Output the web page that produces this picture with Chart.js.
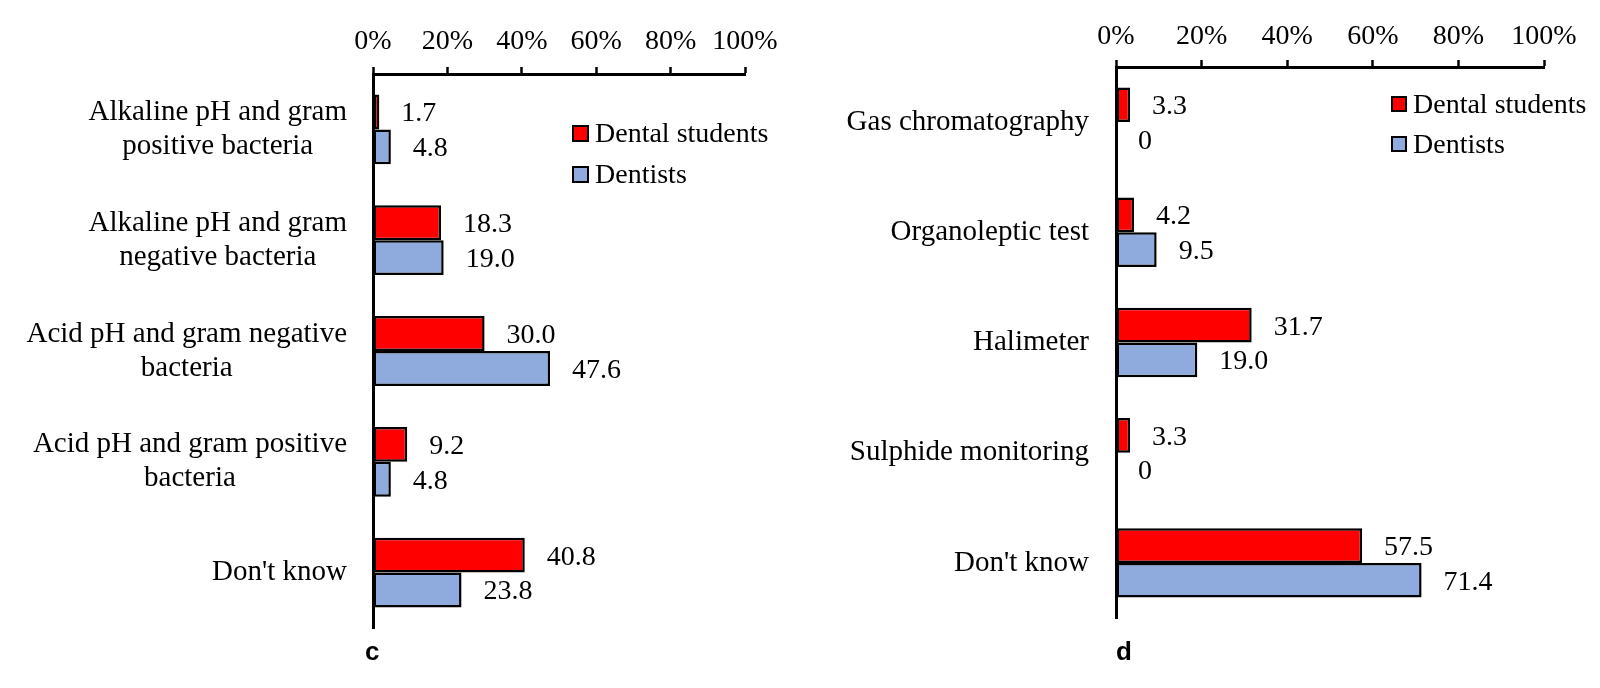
<!DOCTYPE html>
<html><head><meta charset="utf-8">
<script src="https://cdn.jsdelivr.net/npm/chart.js@4/dist/chart.umd.min.js"></script>
<style>
html,body{margin:0;padding:0;background:#fff;}
body{width:1600px;height:688px;position:relative;overflow:hidden;font-family:"Liberation Serif","Times New Roman",serif;}
.wrap{position:absolute;top:0;width:800px;height:688px;}
.leg{position:absolute;height:40px;display:flex;align-items:center;font-size:28px;color:#000;white-space:nowrap;}
.sw{display:inline-block;box-sizing:border-box;border:2.5px solid #000;margin-right:6px;}
.panel{position:absolute;font-family:"Liberation Sans",Arial,sans-serif;font-weight:bold;font-size:26px;line-height:26px;color:#000;}
</style></head>
<body>
<div class="wrap" style="left:0"><canvas id="c1" width="800" height="688"></canvas></div>
<div class="wrap" style="left:800px"><canvas id="c2" width="800" height="688"></canvas></div>

<div class="leg" style="left:572px;top:113px"><span class="sw" style="width:17px;height:17px;background:#FF0000"></span>Dental students</div>
<div class="leg" style="left:572px;top:154px"><span class="sw" style="width:17px;height:17px;background:#8FAADC"></span>Dentists</div>
<div class="leg" style="left:1391px;top:84px"><span class="sw" style="width:16px;height:16px;background:#FF0000"></span>Dental students</div>
<div class="leg" style="left:1391px;top:124px"><span class="sw" style="width:16px;height:16px;background:#8FAADC"></span>Dentists</div>

<div class="panel" style="left:365px;top:638px">c</div>
<div class="panel" style="left:1116px;top:638px">d</div>

<script>
// ---- data ----
const leftCategories = [
  ["Alkaline pH and gram", "positive bacteria"],
  ["Alkaline pH and gram", "negative bacteria"],
  ["Acid pH and gram negative", "bacteria"],
  ["Acid pH and gram positive", "bacteria"],
  "Don't know"
];
const leftStudents = [1.7, 18.3, 30.0, 9.2, 40.8];
const leftDentists = [4.8, 19.0, 47.6, 4.8, 23.8];

const rightCategories = ["Gas chromatography", "Organoleptic test", "Halimeter", "Sulphide monitoring", "Don't know"];
const rightStudents = [3.3, 4.2, 31.7, 3.3, 57.5];
const rightDentists = [0, 9.5, 19.0, 0, 71.4];

const seriesNames = ["Dental students", "Dentists"];
const xTickValues = [0, 20, 40, 60, 80, 100];

// ---- styling / rendering ----
const RED = '#FF0000', BLUE = '#8FAADC';
const SERIF = '"Liberation Serif", "Times New Roman", serif';

const labelPlugin = {
  id: 'catLabels',
  afterDraw(chart, args, opts) {
    const ctx = chart.ctx;
    const ys = chart.scales.y;
    ctx.save();
    ctx.fillStyle = '#000';
    ctx.textBaseline = 'middle';
    ctx.textAlign = 'center';
    ctx.font = '29px ' + SERIF;
    const right = chart.chartArea.left - opts.gap;
    chart.data.labels.forEach((lab, i) => {
      const lines = Array.isArray(lab) ? lab : [lab];
      const w = Math.max(...lines.map(l => ctx.measureText(l).width));
      const cx = right - w / 2;
      const y = ys.getPixelForTick(i);
      lines.forEach((ln, j) => ctx.fillText(ln, cx, y + (j - (lines.length - 1) / 2) * opts.lineHeight + opts.dy));
    });
    ctx.font = '28px ' + SERIF;
    ctx.textAlign = 'left';
    chart.data.datasets.forEach((ds, di) => {
      chart.getDatasetMeta(di).data.forEach((el, i) => {
        const v = ds.data[i];
        ctx.fillText(v === 0 ? '0' : v.toFixed(1), el.x + opts.valGap, el.y + opts.valDy);
      });
    });
    ctx.restore();
  }
};

function makeChart(id, cats, s, d, cfg) {
  return new Chart(document.getElementById(id), {
    type: 'bar',
    data: {
      labels: cats,
      datasets: [
        {label: seriesNames[0], data: s, backgroundColor: RED, borderColor: '#000', borderWidth: 2.5, borderSkipped: false},
        {label: seriesNames[1], data: d, backgroundColor: BLUE, borderColor: '#000', borderWidth: 2.5, borderSkipped: false}
      ]
    },
    options: {
      indexAxis: 'y',
      responsive: false,
      animation: false,
      events: [],
      categoryPercentage: 0.63,
      barPercentage: 1.0,
      layout: {padding: {left: 0, top: 0, right: cfg.right, bottom: cfg.bottom}},
      plugins: {
        legend: {display: false},
        tooltip: {enabled: false},
        catLabels: {gap: cfg.gap, lineHeight: 34, dy: 0, valGap: 22, valDy: 2}
      },
      scales: {
        x: {
          type: 'linear', position: 'top', min: 0, max: 100,
          afterBuildTicks: sc => { sc.ticks = xTickValues.map(v => ({value: v})); },
          afterFit: sc => { sc.height = cfg.xHeight; },
          ticks: {
            callback: v => v + '%',
            font: {family: SERIF, size: 28},
            color: '#000',
            padding: cfg.tickPad,
            maxRotation: 0
          },
          grid: {display: true, drawOnChartArea: false, drawTicks: true, tickLength: 7, tickWidth: 2.5, tickColor: '#000', color: '#000'},
          border: {display: true, color: '#000', width: 3}
        },
        y: {
          type: 'category',
          afterFit: sc => { sc.width = cfg.yWidth; },
          ticks: {display: false},
          grid: {display: false},
          border: {display: true, color: '#000', width: 3}
        }
      }
    },
    plugins: [labelPlugin]
  });
}

makeChart('c1', leftCategories, leftStudents, leftDentists, {yWidth: 373, xHeight: 74, right: 55, bottom: 60, tickPad: 9, gap: 26});
makeChart('c2', rightCategories, rightStudents, rightDentists, {yWidth: 316, xHeight: 67, right: 56, bottom: 70, tickPad: 7, gap: 27});
</script>
</body></html>
